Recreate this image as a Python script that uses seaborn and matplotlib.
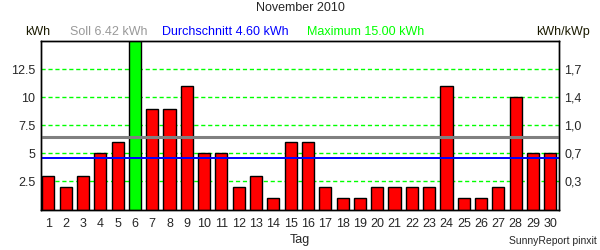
import matplotlib
matplotlib.use("Agg")
import matplotlib.pyplot as plt
import seaborn as sns
import pandas as pd

days = [str(d) for d in range(1, 31)]
energy = [3, 2, 3, 5, 6, 15, 9, 9, 11, 5, 5, 2, 3, 1, 6, 6, 2, 1, 1, 2,
          2, 2, 2, 11, 1, 1, 2, 10, 5, 5]
soll = 6.42
mean = 4.60
maximum = 15.00
yticks = [2.5, 5, 7.5, 10, 12.5]
yticklabels = ["2.5", "5", "7.5", "10", "12.5"]
right_labels = ["0,3", "0,7", "1,0", "1,4", "1,7"]

sns.set_style("white")
plt.rcParams['font.family'] = ['Liberation Sans', 'DejaVu Sans']

df = pd.DataFrame({"Tag": days, "kWh": energy})
bar_colors = {d: ("#00FF00" if v == maximum else "#FF0000") for d, v in zip(days, energy)}

fig = plt.figure(figsize=(6, 2.5), dpi=100)
ax = fig.add_axes([40.7 / 600, 1 - 209.5 / 250, (559 - 40.7) / 600, (209.5 - 40.7) / 250])

sns.barplot(data=df, x="Tag", y="kWh", hue="Tag", palette=bar_colors, legend=False,
            width=0.7, edgecolor="black", linewidth=1.0, saturation=1, ax=ax, zorder=3)

for t in yticks:
    ax.axhline(t, color="#00FF00", linestyle=(0, (3, 2)), linewidth=1.0, zorder=2)
ax.axhline(soll, color="#808080", linewidth=2.2, zorder=4)
ax.axhline(mean, color="#0000FF", linewidth=1.4, zorder=4)

ax.set_xlim(-0.44, 29.5)
ax.set_ylim(0, 15.05)
ax.set_yticks(yticks)
ax.set_yticklabels(yticklabels, fontsize=9)
ax.tick_params(axis="both", length=0, labelsize=9, pad=4)
ax.tick_params(axis="x", pad=6)
ax.set_xlabel("Tag", fontsize=9, labelpad=3)
ax.set_ylabel("")

ax2 = ax.twinx()
ax2.set_ylim(ax.get_ylim())
ax2.set_yticks(yticks)
ax2.set_yticklabels(right_labels, fontsize=9)
ax2.tick_params(axis="y", length=0, pad=4)

for a in (ax, ax2):
    for s in a.spines.values():
        s.set_color("black")
        s.set_linewidth(1.0)

fig.text(0.5, 1 - 8 / 250, "November 2010", ha="center", va="center", fontsize=9)
fig.text(25 / 600, 1 - 32 / 250, "kWh", ha="left", va="center", fontsize=9, color="#1a1a00")
fig.text(70 / 600, 1 - 32 / 250, "Soll 6.42 kWh", ha="left", va="center", fontsize=9, color="#999999")
fig.text(162 / 600, 1 - 32 / 250, "Durchschnitt 4.60 kWh", ha="left", va="center", fontsize=9, color="#0000FF")
fig.text(307 / 600, 1 - 32 / 250, "Maximum 15.00 kWh", ha="left", va="center", fontsize=9, color="#00FF00")
fig.text(590 / 600, 1 - 32 / 250, "kWh/kWp", ha="right", va="center", fontsize=9, color="#1a1a00")
fig.text(597 / 600, 1 - 241 / 250, "SunnyReport pinxit", ha="right", va="center", fontsize=7.5)

fig.savefig("out.png", dpi=100, facecolor="white")
